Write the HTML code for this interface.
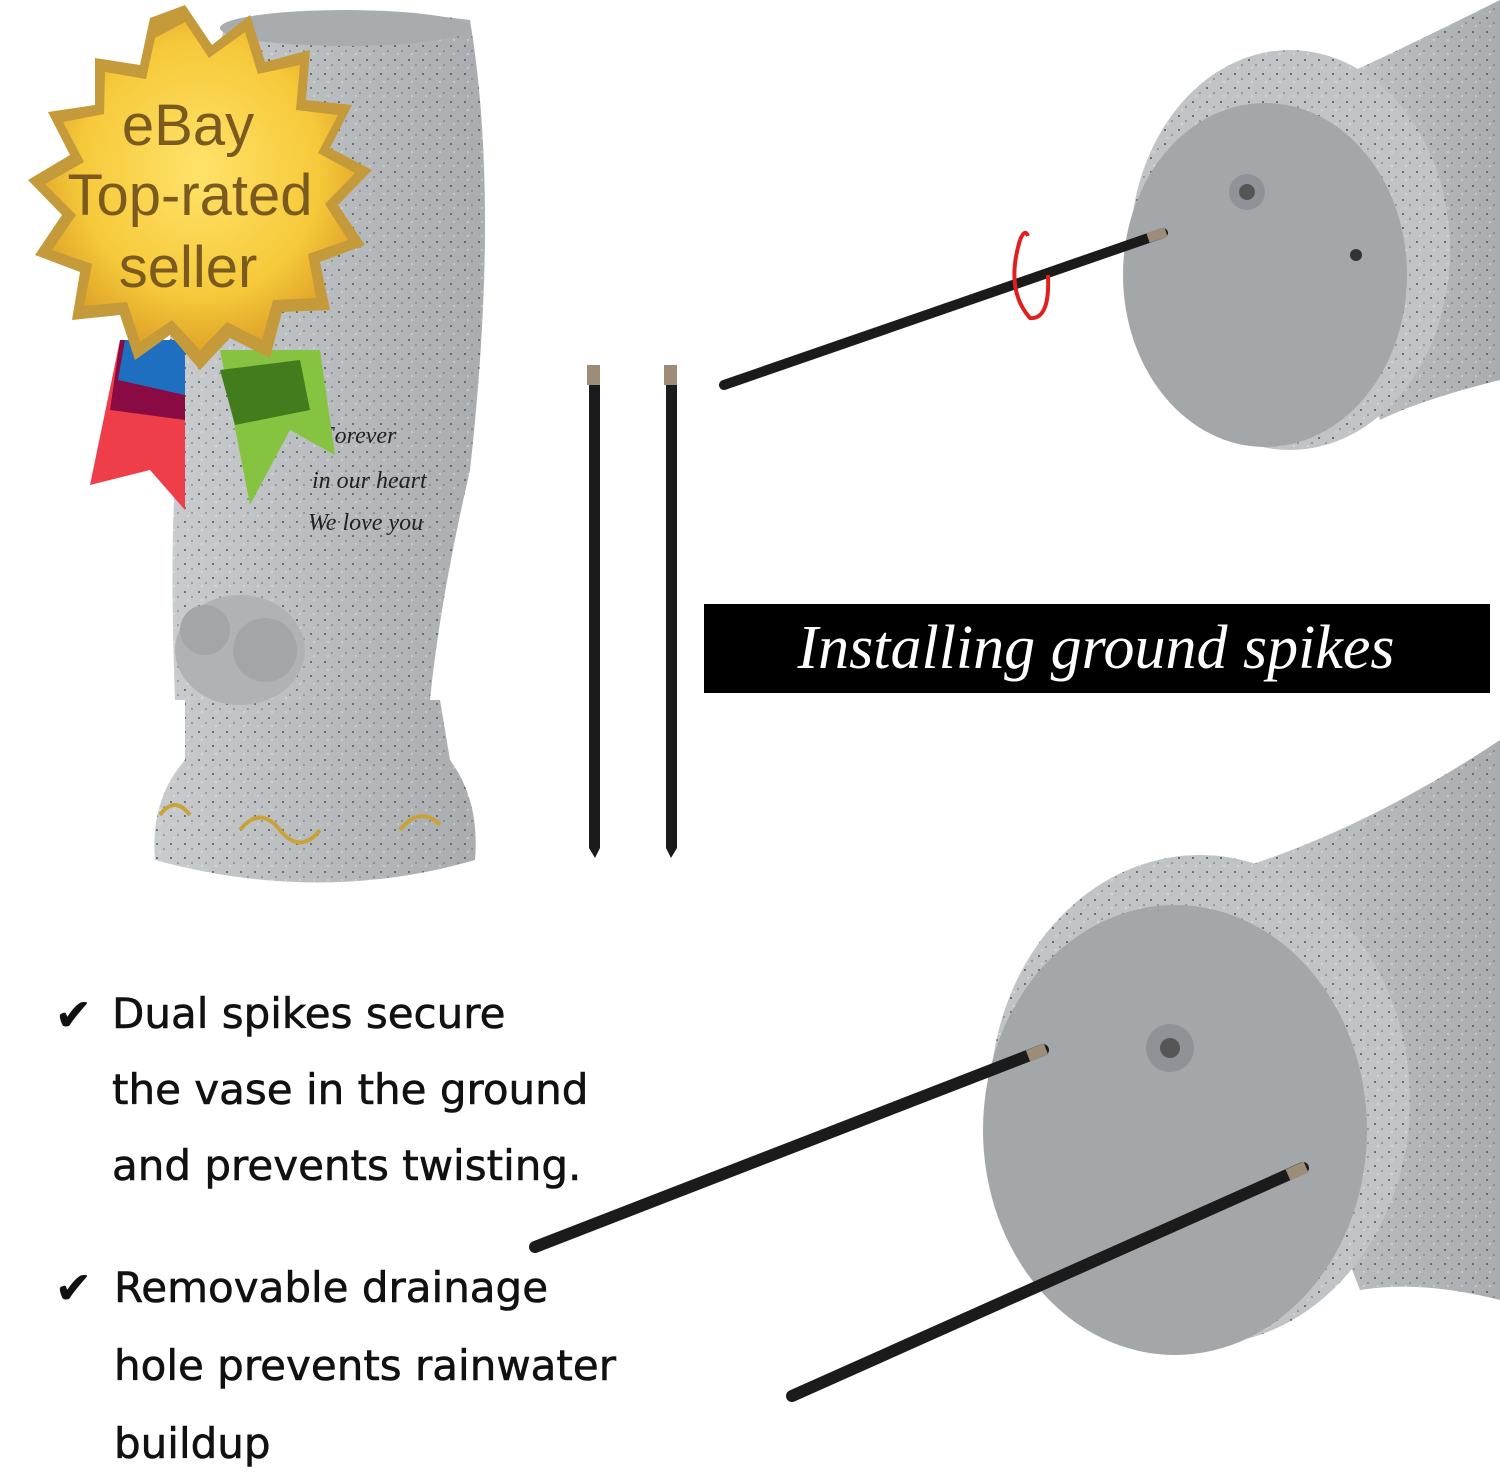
<!DOCTYPE html>
<html><head><meta charset="utf-8"><style>
html,body{margin:0;padding:0;background:#fff}
svg{display:block}
</style></head><body>
<svg width="1500" height="1472" viewBox="0 0 1500 1472" xmlns="http://www.w3.org/2000/svg">
<defs>
<radialGradient id="gold" cx="50%" cy="45%" r="55%">
<stop offset="0" stop-color="#ffe36a"/><stop offset="0.7" stop-color="#f6c93a"/><stop offset="1" stop-color="#e0a52a"/>
</radialGradient>
<linearGradient id="gran" x1="0" x2="1">
<stop offset="0" stop-color="#c9ccce"/><stop offset="0.5" stop-color="#b9bcbf"/><stop offset="1" stop-color="#a9adb0"/>
</linearGradient>
<pattern id="dots" width="14" height="14" patternUnits="userSpaceOnUse">
<circle cx="3" cy="4" r="1" fill="#555"/><circle cx="10" cy="9" r="0.8" fill="#666"/><circle cx="6" cy="12" r="0.7" fill="#eee"/>
</pattern>
</defs>
<rect width="1500" height="1472" fill="#fff"/>

<path d="M225 25 Q320 0 470 20 Q500 200 470 470 Q440 600 430 700 L175 700 Q170 560 175 480 Q150 300 225 25 Z" fill="url(#gran)"/>
<path d="M225 25 Q320 0 470 20 Q500 200 470 470 Q440 600 430 700 L175 700 Q170 560 175 480 Q150 300 225 25 Z" fill="url(#dots)"/>
<ellipse cx="345" cy="28" rx="125" ry="18" fill="#a9acaf"/>
<path d="M185 700 L440 700 Q445 730 450 760 Q480 800 475 860 Q320 905 155 860 Q150 800 185 760 Z" fill="url(#gran)"/>
<path d="M185 700 L440 700 Q445 730 450 760 Q480 800 475 860 Q320 905 155 860 Q150 800 185 760 Z" fill="url(#dots)"/>
<ellipse cx="240" cy="650" rx="65" ry="55" fill="#b0b3b6"/>
<circle cx="265" cy="650" r="32" fill="#a3a6a9"/><circle cx="205" cy="630" r="25" fill="#a3a6a9"/>
<text x="320" y="443" font-family="Liberation Serif,serif" font-style="italic" font-size="24" fill="#222">Forever</text>
<text x="312" y="488" font-family="Liberation Serif,serif" font-style="italic" font-size="24" fill="#222">in our heart</text>
<text x="308" y="530" font-family="Liberation Serif,serif" font-style="italic" font-size="24" fill="#222">We love you</text>
<path d="M160 815 q15 -20 30 0 M240 830 q20 -25 40 0 q20 25 40 0 M400 830 q20 -25 40 -5" stroke="#c9a23a" stroke-width="4" fill="none"/>

<polygon points="120,340 185,340 185,510 150,470 90,485" fill="#ee3e4a"/>
<polygon points="120,340 185,340 185,420 110,410" fill="#8a0b44"/>
<polygon points="125,340 185,340 185,395 118,380" fill="#1f6fc0"/>
<polygon points="220,350 320,350 335,455 290,430 250,505" fill="#86c340"/>
<polygon points="220,370 300,360 310,410 235,425" fill="#437c1c"/>

<polygon fill="#c49a3a" points="
185,5 212,45 250,15 265,62 310,50 306,100 352,105 330,148 372,170 338,205 365,245 320,262 330,310 282,312 270,358 230,338 200,370 170,335 135,360 120,315 72,320 80,272 35,255 62,215 28,180 70,155 48,112 95,105 95,58 140,65 150,18"/>
<polygon fill="url(#gold)" points="
185,22 209,58 245,32 258,74 300,65 296,110 338,115 318,153 355,173 325,204 348,240 308,254 316,298 273,300 262,340 227,322 200,350 172,320 140,342 127,302 84,306 92,264 52,250 76,215 45,184 84,162 63,122 104,114 105,72 146,79 155,38"/>
<g font-family="Liberation Sans,sans-serif" font-size="58" fill="#7a5a1e" text-anchor="middle">
<text x="188" y="145">eBay</text>
<text x="190" y="215">Top-rated</text>
<text x="188" y="287">seller</text>
</g>

<rect x="589" y="378" width="11" height="470" fill="#1b1b1b"/>
<rect x="587" y="365" width="13" height="20" fill="#9b8d77"/>
<polygon points="589,848 600,848 595,858" fill="#1b1b1b"/>
<rect x="666" y="378" width="11" height="470" fill="#1b1b1b"/>
<rect x="664" y="365" width="13" height="20" fill="#9b8d77"/>
<polygon points="666,848 677,848 671,858" fill="#1b1b1b"/>

<path d="M1290 100 Q1380 60 1500 0 L1500 380 Q1420 400 1380 420 Z" fill="url(#gran)"/>
<path d="M1290 100 Q1380 60 1500 0 L1500 380 Q1420 400 1380 420 Z" fill="url(#dots)"/>
<ellipse cx="1290" cy="250" rx="160" ry="200" fill="#c1c4c6"/>
<ellipse cx="1290" cy="250" rx="160" ry="200" fill="url(#dots)"/>
<ellipse cx="1265" cy="275" rx="142" ry="172" fill="#a4a7aa"/>
<circle cx="1247" cy="192" r="18" fill="#8f9296"/><circle cx="1247" cy="192" r="8" fill="#555"/>
<circle cx="1356" cy="255" r="6" fill="#333"/>
<line x1="724" y1="385" x2="1163" y2="233" stroke="#1b1b1b" stroke-width="10" stroke-linecap="round"/>
<line x1="1148" y1="238" x2="1166" y2="232" stroke="#9b8d77" stroke-width="10"/>
<path d="M1020 240 Q1005 290 1030 318 Q1050 320 1048 275" stroke="#e02020" stroke-width="4" fill="none"/>
<path d="M1020 240 Q1025 228 1028 236" stroke="#e02020" stroke-width="4" fill="none"/>

<rect x="704" y="604" width="786" height="89" fill="#000"/>
<text x="1096" y="668" text-anchor="middle" font-family="Liberation Serif,serif" font-style="italic" font-size="62" fill="#fff">Installing ground spikes</text>

<path d="M1200 880 Q1350 840 1500 740 L1500 1300 Q1420 1280 1360 1290 Z" fill="url(#gran)"/>
<path d="M1200 880 Q1350 840 1500 740 L1500 1300 Q1420 1280 1360 1290 Z" fill="url(#dots)"/>
<ellipse cx="1200" cy="1100" rx="210" ry="245" fill="#c1c4c6"/>
<ellipse cx="1200" cy="1100" rx="210" ry="245" fill="url(#dots)"/>
<ellipse cx="1175" cy="1130" rx="192" ry="225" fill="#a4a7aa"/>
<circle cx="1170" cy="1048" r="24" fill="#8f9296"/><circle cx="1170" cy="1048" r="10" fill="#555"/>
<line x1="535" y1="1247" x2="1043" y2="1050" stroke="#1b1b1b" stroke-width="12" stroke-linecap="round"/>
<line x1="1028" y1="1056" x2="1046" y2="1049" stroke="#9b8d77" stroke-width="12"/>
<line x1="792" y1="1396" x2="1303" y2="1168" stroke="#1b1b1b" stroke-width="12" stroke-linecap="round"/>
<line x1="1288" y1="1175" x2="1306" y2="1167" stroke="#9b8d77" stroke-width="12"/>

<g font-family="DejaVu Sans,Liberation Sans,sans-serif" font-size="42" fill="#111" stroke="#111" stroke-width="0.6">
<text x="55" y="1030" font-size="44">✔</text>
<text x="112" y="1028">Dual spikes secure</text>
<text x="112" y="1104">the vase in the ground</text>
<text x="112" y="1180">and prevents twisting.</text>
<text x="55" y="1303" font-size="44">✔</text>
<text x="114" y="1302">Removable drainage</text>
<text x="114" y="1380">hole prevents rainwater</text>
<text x="114" y="1458">buildup</text>
</g>
</svg>
</body></html>
